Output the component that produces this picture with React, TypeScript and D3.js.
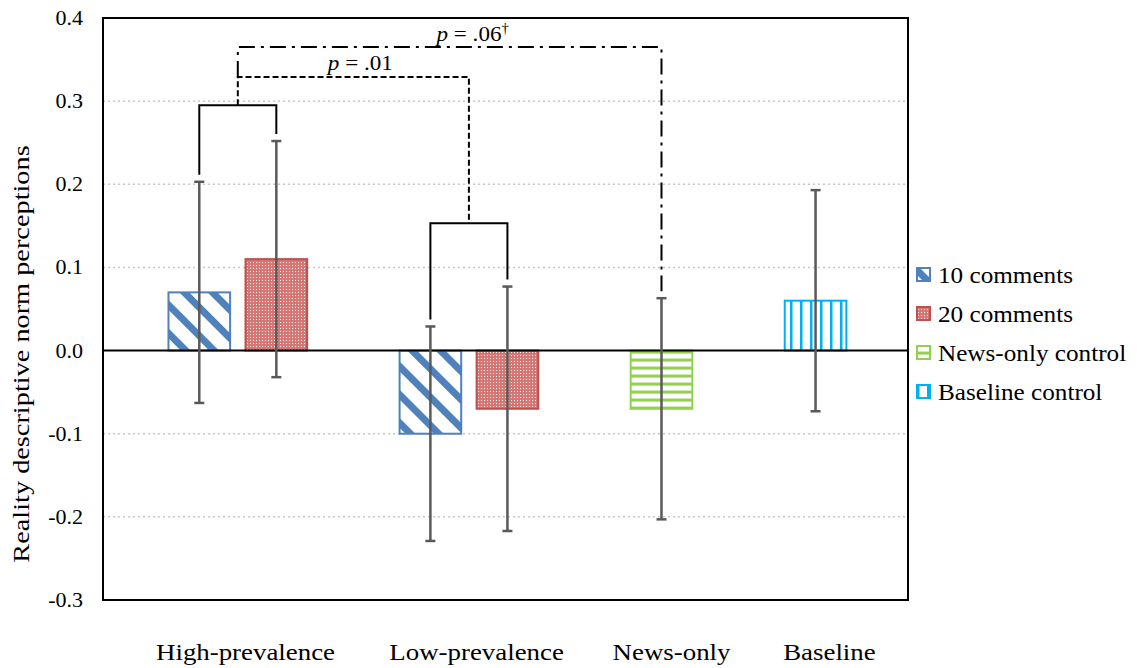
import React from "react";
import * as d3 from "d3";

const categories = ["High-prevalence", "Low-prevalence", "News-only", "Baseline"];
const categorySlotCenters = [0.6, 3.6, 6.13, 8.18];
const seriesNames = ["10 comments", "20 comments", "News-only control", "Baseline control"];
const barSeries = [0, 1, 0, 1, 2, 3];
const barSlots = [0, 1, 3, 4, 6, 8];
const barValues = [0.07, 0.11, -0.1, -0.07, -0.07, 0.06];
const barErrors = [0.133, 0.142, 0.129, 0.147, 0.133, 0.133];
const yTicks = [0.4, 0.3, 0.2, 0.1, 0.0, -0.1, -0.2, -0.3];

const W = 1137, H = 668;
const left = 103, right = 908, top = 18, bottom = 600;
const colors = ["#4F81BD", "#C0504D", "#92D050", "#00B0F0"];
const patternIds = ["pat10", "pat20", "patNews", "patBase"];
const font = "Liberation Serif";

function T({ x, y, sx = 1, rot = 0, size, anchor = "start", children }: any) {
  return (
    <text transform={`translate(${x},${y}) rotate(${rot}) scale(${sx},1)`} textAnchor={anchor}
      fontFamily={font} fontSize={size} fill="black">{children}</text>
  );
}

export default function App() {
  const y = d3.scaleLinear().domain([-0.3, 0.4]).range([bottom, top]);
  const x = d3.scaleLinear().domain([-1.25, 9.2]).range([left, right]);
  const slotW = x(1) - x(0);
  const barW = slotW * 0.8;
  const capW = 10;

  const errTop = (i: number) => y(barValues[i] + barErrors[i]);
  const errBot = (i: number) => y(barValues[i] - barErrors[i]);

  const hiY = y(0.295);
  const loY = y(0.153);
  const dashY = y(0.329);
  const dotY = y(0.365);
  const hiMid = (x(barSlots[0]) + x(barSlots[1])) / 2;
  const loMid = (x(barSlots[2]) + x(barSlots[3])) / 2;
  const gap = 7;

  return (
    <svg width={W} height={H} style={{ display: "block", position: "absolute", left: 0, top: 0 }}>
      <defs>
        <pattern id="pat10" patternUnits="userSpaceOnUse" width="20" height="20" patternTransform="rotate(-45)">
          <rect width="20" height="20" fill="white" />
          <rect x="0" y="0" width="7" height="20" fill={colors[0]} />
        </pattern>
        <pattern id="pat20" patternUnits="userSpaceOnUse" width="3" height="3">
          <rect width="3" height="3" fill="#D57774" />
          <rect x="1" y="1" width="1" height="1" fill="#FFF4F4" />
        </pattern>
        <pattern id="patNews" patternUnits="userSpaceOnUse" width="8" height="8" y={y(0)}>
          <rect width="8" height="8" fill="white" />
          <rect x="0" y="0" width="8" height="3" fill={colors[2]} />
        </pattern>
        <pattern id="patBase" patternUnits="userSpaceOnUse" width="10" height="10">
          <rect width="10" height="10" fill="white" />
          <rect x="0" y="0" width="2.5" height="10" fill={colors[3]} />
        </pattern>
      </defs>
      <rect width={W} height={H} fill="white" />

      {yTicks.filter(t => t !== 0 && t !== 0.4 && t !== -0.3).map(t => (
        <line key={t} x1={left} x2={right} y1={y(t)} y2={y(t)} stroke="#C8C8C8" strokeWidth={1.5} strokeDasharray="2 3" />
      ))}

      {barValues.map((v, i) => {
        const cx = x(barSlots[i]);
        const s = barSeries[i];
        return (
          <rect key={i} x={cx - barW / 2} y={Math.min(y(v), y(0))} width={barW}
            height={Math.abs(y(v) - y(0))} fill={`url(#${patternIds[s]})`} stroke={colors[s]} strokeWidth={2} />
        );
      })}

      <line x1={left} x2={right} y1={y(0)} y2={y(0)} stroke="black" strokeWidth={2} />

      {barValues.map((v, i) => {
        const cx = x(barSlots[i]);
        return (
          <g key={i} stroke="#595959" strokeWidth={2.5}>
            <line x1={cx} x2={cx} y1={errTop(i)} y2={errBot(i)} />
            <line x1={cx - capW / 2} x2={cx + capW / 2} y1={errTop(i)} y2={errTop(i)} />
            <line x1={cx - capW / 2} x2={cx + capW / 2} y1={errBot(i)} y2={errBot(i)} />
          </g>
        );
      })}

      <rect x={left} y={top} width={right - left} height={bottom - top} fill="none" stroke="black" strokeWidth={2} />

      <path d={`M${x(barSlots[0])},${errTop(0) - gap} V${hiY} H${x(barSlots[1])} V${errTop(1) - gap}`} fill="none" stroke="black" strokeWidth={2} />
      <path d={`M${x(barSlots[2])},${errTop(2) - gap} V${loY} H${x(barSlots[3])} V${errTop(3) - gap}`} fill="none" stroke="black" strokeWidth={2} />
      <path d={`M${hiMid},${hiY} V${dashY} H${loMid} V${loY}`} fill="none" stroke="black" strokeWidth={2} strokeDasharray="6 3" />
      <path d={`M${hiMid},${dashY} V${dotY} H${x(barSlots[4])} V${errTop(4) - gap}`} fill="none" stroke="black" strokeWidth={2} strokeDasharray="16 6 3 6" />
      <T x={(hiMid + loMid) / 2 + 7} y={dashY - 7} size={22} sx={1.05} anchor="middle">
        <tspan fontStyle="italic">p</tspan> = .01
      </T>
      <T x={(hiMid + x(barSlots[4])) / 2 + 23} y={dotY - 6} size={22} sx={1.05} anchor="middle">
        <tspan fontStyle="italic">p</tspan> = .06<tspan fontSize={14} dy={-8}>†</tspan>
      </T>

      {yTicks.map(t => (
        <T key={t} x={83} y={y(t) + 7} size={20} sx={1.1} anchor="end">{t.toFixed(1)}</T>
      ))}
      <T x={29} y={354} rot={-90} size={24} sx={1.18} anchor="middle">
        Reality descriptive norm perceptions
      </T>

      {categories.map((c, i) => (
        <T key={c} x={x(categorySlotCenters[i])} y={660} size={24} sx={1.12} anchor="middle">{c}</T>
      ))}

      {seriesNames.map((n, i) => (
        <g key={n} transform={`translate(917,${275 + i * 39})`}>
          <rect x={0} y={-7} width={13} height={13} fill={`url(#${patternIds[i]})`} stroke={colors[i]} strokeWidth={2} />
          <T x={21} y={8} size={24} sx={1.05}>{n}</T>
        </g>
      ))}
    </svg>
  );
}
